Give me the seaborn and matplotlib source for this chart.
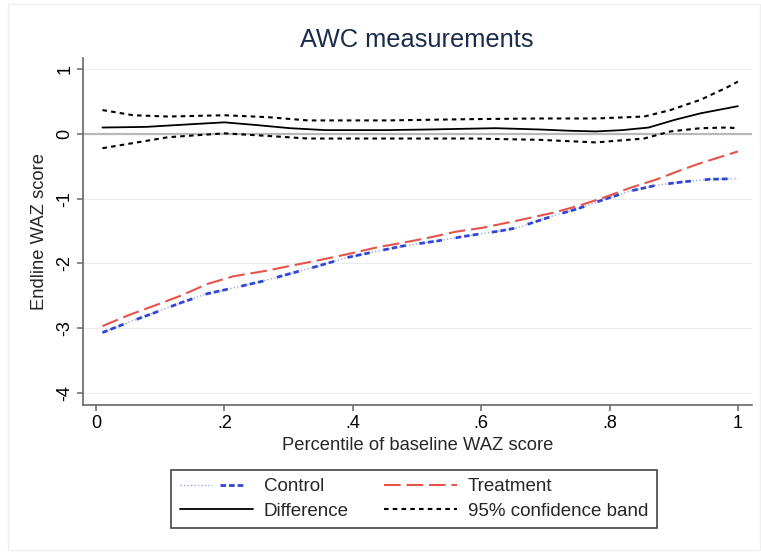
from matplotlib import pyplot as plt
from matplotlib.patches import Rectangle
from matplotlib.legend_handler import HandlerTuple
import numpy as np
import pandas as pd
import seaborn as sns

# values
ctrl_x = [0.01, 0.051, 0.092, 0.132, 0.173, 0.214, 0.262, 0.302, 0.343, 0.391, 0.439, 0.479,
          0.534, 0.575, 0.629, 0.656, 0.711, 0.752, 0.792, 0.833, 0.874, 0.915, 0.956, 1.0]
ctrl_y = [-3.07, -2.91, -2.76, -2.61, -2.47, -2.38, -2.27, -2.16, -2.05, -1.91, -1.81, -1.73,
          -1.65, -1.58, -1.50, -1.45, -1.27, -1.15, -1.01, -0.88, -0.79, -0.74, -0.70, -0.69]

treat_x = [0.01, 0.051, 0.092, 0.132, 0.173, 0.214, 0.268, 0.302, 0.343, 0.391, 0.439, 0.479,
           0.52, 0.561, 0.602, 0.656, 0.711, 0.752, 0.792, 0.833, 0.874, 0.908, 0.942, 1.0]
treat_y = [-2.97, -2.80, -2.65, -2.50, -2.32, -2.20, -2.11, -2.04, -1.96, -1.86, -1.75, -1.68,
           -1.60, -1.51, -1.45, -1.34, -1.22, -1.11, -0.98, -0.83, -0.70, -0.57, -0.45, -0.27]

diff_x = [0.01, 0.078, 0.146, 0.2, 0.248, 0.302, 0.357, 0.452, 0.52, 0.622, 0.69, 0.738,
          0.779, 0.82, 0.861, 0.902, 0.942, 1.0]
diff_y = [0.10, 0.11, 0.15, 0.18, 0.14, 0.09, 0.06, 0.06, 0.07, 0.09, 0.07, 0.05,
          0.04, 0.06, 0.10, 0.22, 0.32, 0.43]

ci_x = [0.01, 0.058, 0.112, 0.2, 0.268, 0.33, 0.452, 0.588, 0.69, 0.779, 0.854, 0.895, 0.942, 0.983, 1.0]
ci_hi = [0.37, 0.29, 0.27, 0.29, 0.26, 0.21, 0.21, 0.23, 0.24, 0.24, 0.27, 0.37, 0.53, 0.72, 0.81]
ci_lo = [-0.22, -0.14, -0.05, 0.01, -0.03, -0.07, -0.07, -0.07, -0.09, -0.13, -0.07, 0.04, 0.09, 0.10, 0.09]

yticks = [-4, -3, -2, -1, 0, 1]
xticks = [0, 0.2, 0.4, 0.6, 0.8, 1]
xtick_labels = ['0', '.2', '.4', '.6', '.8', '1']

sns.set_style('white')
plt.rcParams['font.family'] = ['Liberation Sans', 'DejaVu Sans']

fig = plt.figure(figsize=(7.61, 5.52), dpi=100)
fig.patches.append(Rectangle((8/761, 2/552), 752/761, 546/552, transform=fig.transFigure,
                             fill=False, edgecolor='#efefef', lw=1))
ax = fig.add_axes([83/761, 1-405/552, 669/761, 347/552])

ax.axhline(0, color='#b8b8b8', lw=1.6, zorder=1)

sns.lineplot(x=ci_x, y=ci_hi, ax=ax, color='black', lw=1.5)
ci_line = ax.lines[-1]
sns.lineplot(x=ci_x, y=ci_lo, ax=ax, color='black', lw=1.5)
ci_line2 = ax.lines[-1]
for l in (ci_line, ci_line2):
    l.set_linestyle((0, (2.2, 2.0)))

sns.lineplot(x=diff_x, y=diff_y, ax=ax, color='black', lw=1.3)
diff_line = ax.lines[-1]

sns.lineplot(x=ctrl_x, y=ctrl_y, ax=ax, color='#9aa6ee', lw=1.0)
ctrl_dots = ax.lines[-1]
ctrl_dots.set_linestyle((0, (1, 1.5)))
sns.lineplot(x=ctrl_x, y=ctrl_y, ax=ax, color='#3346d3', lw=2.0)
ctrl_dash = ax.lines[-1]
ctrl_dash.set_linestyle((0, (2.0, 1.1, 2.0, 1.1, 2.0, 5.0)))

sns.lineplot(x=treat_x, y=treat_y, ax=ax, color='#e5534b', lw=1.5)
treat_line = ax.lines[-1]
treat_line.set_linestyle((0, (8.0, 2.8)))

ax.set_xlim(-0.0203, 1.022)
ax.set_ylim(-4.19, 1.175)
ax.set_yticks(yticks)
ax.set_yticklabels([str(t) for t in yticks], rotation=90, va='center')
ax.set_xticks(xticks)
ax.set_xticklabels(xtick_labels)
ax.yaxis.grid(True, color='#ececec', lw=0.8)
ax.xaxis.grid(False)
ax.set_axisbelow(True)
ax.tick_params(axis='both', direction='out', length=4, width=1.1, color='#666666',
               labelsize=13, labelcolor='black', pad=3, left=True, bottom=True)
ax.spines[['right', 'top']].set_visible(False)
for s in ('left', 'bottom'):
    ax.spines[s].set_color('#666666')
    ax.spines[s].set_linewidth(1.2)

ax.set_xlabel('Percentile of baseline WAZ score', size=13.2, labelpad=4)
ax.set_ylabel('Endline WAZ score', size=13.2, labelpad=6)
fig.text(417/761, 1-40/552, 'AWC measurements', ha='center', va='center',
         size=18.3, color='#1a2b4c')

handles = [(ctrl_dots, ctrl_dash), diff_line, treat_line, ci_line]
labels = ['Control', 'Difference', 'Treatment', '95% confidence band']
leg = fig.legend(handles, labels, ncol=2, loc='center', bbox_to_anchor=(414/761, 1-499/552),
                 fontsize=13.5, handlelength=3.9, handletextpad=0.6, columnspacing=1.85,
                 labelspacing=0.4, borderpad=0.45, fancybox=False, framealpha=1,
                 edgecolor='#444444', handler_map={tuple: HandlerTuple(ndivide=None)})
leg.get_frame().set_linewidth(1.2)

plt.savefig('out.png', dpi=100)
